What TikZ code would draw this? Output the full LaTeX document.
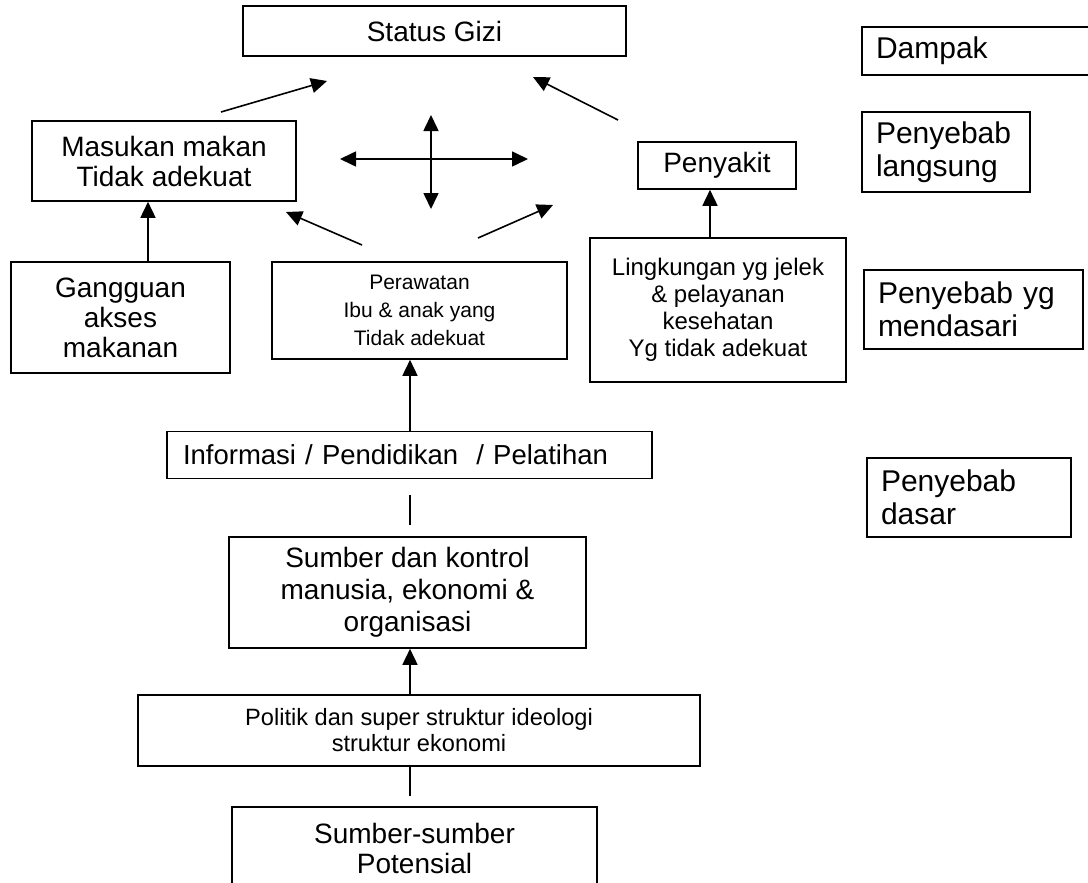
\documentclass[tikz,border=0pt]{standalone}
\usepackage{fontspec}
\setmainfont{Liberation Sans}
\usetikzlibrary{arrows.meta}
\begin{document}
\begin{tikzpicture}[x=1pt,y=-1pt,
  box/.style={draw, line width=1.6pt, inner sep=0pt, align=center},
  label/.style={draw, line width=1.6pt, inner ysep=0pt, inner xsep=14pt, align=left,
                font=\fontsize{30}{33}\selectfont},
  arr/.style={line width=1.6pt, -{Triangle[length=16pt,width=15pt]}},
  darr/.style={line width=1.6pt, {Triangle[length=16pt,width=15pt]}-{Triangle[length=16pt,width=15pt]}},
  plain/.style={line width=1.6pt},
  big/.style={font=\fontsize{28}{30}\selectfont},
  mid/.style={font=\fontsize{24}{27}\selectfont},
  small/.style={font=\fontsize{21}{28}\selectfont}]
\useasboundingbox (0,0) rectangle (1088,883);
\clip (0,0) rectangle (1088,883);

% main chain of causes
\node[box, big, minimum width=383, minimum height=50] (gizi) at (434.5,31) {Status Gizi};
\node[box, big, minimum width=264, minimum height=80] (masukan) at (164,161) {Masukan makan\\Tidak adekuat};
\node[box, big, minimum width=158, minimum height=47] (sakit) at (717,165.5) {Penyakit};
\node[box, big, minimum width=219, minimum height=111] (akses) at (120.5,317.5) {Gangguan\\akses\\makanan};
\node[box, small, minimum width=295, minimum height=97] (rawat) at (419.5,310.5) {Perawatan\\Ibu \& anak yang\\Tidak adekuat};
\node[box, mid, minimum width=256, minimum height=144] (lingk) at (718,310) {Lingkungan yg jelek\\\& pelayanan\\kesehatan\\Yg tidak adekuat};
\node[box, minimum height=47, inner xsep=16pt, text width=453, align=left, font=\fontsize{27.5}{30}\selectfont] (info) at (409.5,455) {Informasi / Pendidikan~ / Pelatihan};
\node[box, minimum width=357, minimum height=111, font=\fontsize{28}{32}\selectfont] (sumber) at (407.5,592.5) {Sumber dan kontrol\\manusia, ekonomi \&\\organisasi};
\node[box, minimum width=562, minimum height=71, font=\fontsize{23.6}{26}\selectfont] (politik) at (419,730.5) {Politik dan super struktur ideologi\\struktur ekonomi};
\node[box, big, minimum width=365, minimum height=82] (potensi) at (414.5,848) {Sumber-sumber\\Potensial};

% level labels on the right
\node[label, text width=210, minimum height=48] (dampak) at (981,51) {Dampak};
\node[label, text width=140, minimum height=80] (langsung) at (946,152) {Penyebab\\langsung};
\node[label, text width=191, minimum height=79] (mendasari) at (973.5,309.5) {Penyebab yg\\mendasari};
\node[label, text width=176, minimum height=79] (dasar) at (969,497.5) {Penyebab\\dasar};

% free ends of the loose arrows
\coordinate (a1s) at (221,112);  \coordinate (a1e) at (327,81);
\coordinate (a2s) at (618,120);  \coordinate (a2e) at (533,77);
\coordinate (a3s) at (362,245);  \coordinate (a3e) at (286,212);
\coordinate (a4s) at (478,238);  \coordinate (a4e) at (553,205);
\coordinate (hl) at (340,159);   \coordinate (hr) at (528,159);
\coordinate (vt) at (431,115);   \coordinate (vb) at (431,209);
\coordinate (xa) at (148,0);
\coordinate (xl) at (710,0);
\coordinate (xc) at (410,0);

\draw[arr] (a1s) -- (a1e);
\draw[arr] (a2s) -- (a2e);
\draw[arr] (a3s) -- (a3e);
\draw[arr] (a4s) -- (a4e);
\draw[darr] (hl) -- (hr);
\draw[darr] (vt) -- (vb);

\draw[arr] (xa |- akses.north) -- (xa |- masukan.south);
\draw[arr] (xl |- lingk.north) -- (xl |- sakit.south);
\draw[arr] (xc |- info.north) -- (xc |- rawat.south);
\draw[plain, shorten <=16pt, shorten >=11pt] (xc |- info.south) -- (xc |- sumber.north);
\draw[arr] (xc |- politik.north) -- (xc |- sumber.south);
\draw[plain, shorten >=10pt] (xc |- politik.south) -- (xc |- potensi.north);
\end{tikzpicture}
\end{document}
